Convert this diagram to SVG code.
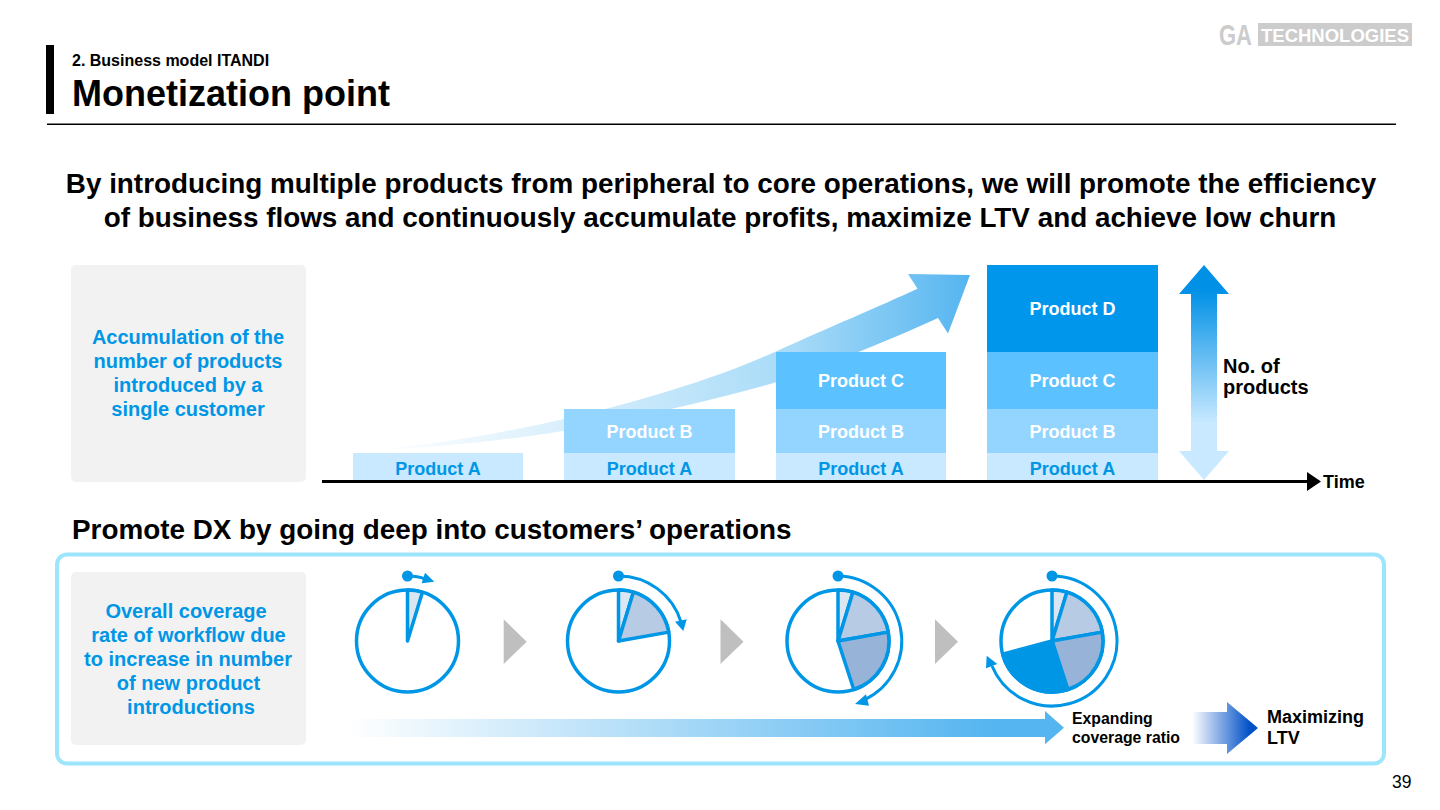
<svg xmlns="http://www.w3.org/2000/svg" width="1440" height="810" viewBox="0 0 1440 810">
<style>
text{font-family:"Liberation Sans",Arial,sans-serif;font-weight:700;fill:#000}
.c{text-anchor:middle}
.bl{fill:#0096e6;font-size:20px}
.pw{fill:#fff;font-size:18px;text-anchor:middle}
.pb{fill:#0096e6;font-size:18px;text-anchor:middle}
.ring{fill:#fff;stroke:#0096e6;stroke-width:3.5}
.sec{stroke:#0096e6;stroke-width:3.5;stroke-linejoin:round}
.s1{fill:#dbe6f3}.s2{fill:#b8cbe4}.s3{fill:#98b3d8}.s4{fill:#0096e6}
.arc{fill:none;stroke:#0096e6;stroke-width:3}
.blue{fill:#0096e6}
.tri{fill:#bfbfbf}
.panel{fill:#f2f2f2}
</style>
<defs>
<linearGradient id="gc" gradientUnits="userSpaceOnUse" x1="380" y1="0" x2="970" y2="0"><stop offset="0" stop-color="#fff"/><stop offset="0.7" stop-color="#a8dbf8"/><stop offset="1" stop-color="#55b5f0"/></linearGradient>
<linearGradient id="gb" gradientUnits="userSpaceOnUse" x1="347" y1="0" x2="1064" y2="0"><stop offset="0" stop-color="#fff"/><stop offset="0.9" stop-color="#55b5f0"/></linearGradient>
<linearGradient id="gv" gradientUnits="userSpaceOnUse" x1="0" y1="290" x2="0" y2="480"><stop offset="0" stop-color="#0090e6"/><stop offset="0.7" stop-color="#c8e9ff"/><stop offset="1" stop-color="#c8e9ff"/></linearGradient>
<linearGradient id="gl" gradientUnits="userSpaceOnUse" x1="1192" y1="0" x2="1250" y2="0"><stop offset="0" stop-color="#fff"/><stop offset="1" stop-color="#0050c8"/></linearGradient>
</defs>

<g id="header">
<rect x="46" y="45" width="8" height="69" fill="#000"/>
<text x="72" y="66" font-size="16">2. Business model ITANDI</text>
<text x="72" y="106" font-size="36">Monetization point</text>
<rect x="47" y="123.5" width="1349" height="1.5" fill="#000"/>
</g>
<g id="logo">
<text x="1219" y="45" font-size="30" textLength="33" lengthAdjust="spacingAndGlyphs" style="fill:#ccc">GA</text>
<rect x="1258" y="23" width="154" height="23" fill="#ccc"/>
<text x="1261" y="42" font-size="19" textLength="148" lengthAdjust="spacingAndGlyphs" style="fill:#fff">TECHNOLOGIES</text>
</g>
<g id="headline">
<text class="c" x="721" y="193" font-size="27.85">By introducing multiple products from peripheral to core operations, we will promote the efficiency</text>
<text class="c" x="720" y="227" font-size="27.85">of business flows and continuously accumulate profits, maximize LTV and achieve low churn</text>
</g>

<g id="panel-accumulation">
<rect class="panel" x="71" y="265" width="235" height="217" rx="5"/>
<text class="bl c" x="188" y="344">Accumulation of the</text>
<text class="bl c" x="188" y="368">number of products</text>
<text class="bl c" x="188" y="392">introduced by a</text>
<text class="bl c" x="188" y="416">single customer</text>
</g>

<g id="growth-arrow">
<path d="M375 450 C 520 436 680 395 777 351 C 830 327 880 306 917.500 288.700 L908 274 L970 275 L948 333.600 L938 318 C 910 331 880 343 856 353 C 800 379 730 395 666.500 410 C 600 428 480 446 375 450 Z" fill="url(#gc)"/>
</g>

<g id="col-1">
<rect x="353" y="453" width="170" height="28" fill="#c8e9ff"/><text class="pb" x="438" y="475">Product A</text>
</g>
<g id="col-2">
<rect x="564" y="453" width="171" height="28" fill="#c8e9ff"/><text class="pb" x="649.500" y="475">Product A</text>
<rect x="564" y="409" width="171" height="44" fill="#93d5ff"/><text class="pw" x="649.500" y="438">Product B</text>
</g>
<g id="col-3">
<rect x="776" y="453" width="170" height="28" fill="#c8e9ff"/><text class="pb" x="861" y="475">Product A</text>
<rect x="776" y="409" width="170" height="44" fill="#93d5ff"/><text class="pw" x="861" y="438">Product B</text>
<rect x="776" y="352" width="170" height="57" fill="#5bc2ff"/><text class="pw" x="861" y="387">Product C</text>
</g>
<g id="col-4">
<rect x="987" y="453" width="171" height="28" fill="#c8e9ff"/><text class="pb" x="1072.500" y="475">Product A</text>
<rect x="987" y="409" width="171" height="44" fill="#93d5ff"/><text class="pw" x="1072.500" y="438">Product B</text>
<rect x="987" y="352" width="171" height="57" fill="#5bc2ff"/><text class="pw" x="1072.500" y="387">Product C</text>
<rect x="987" y="265" width="171" height="87" fill="#0096ec"/><text class="pw" x="1072.500" y="315">Product D</text>
</g>

<g id="connectors">
<path d="M1204 265 L1229 294 H1217 V451 H1229 L1204 480 L1179 451 H1191 V294 H1179 Z" fill="url(#gv)"/>
<rect x="322" y="480" width="986" height="3" fill="#000"/>
<path d="M1307 472 L1321 481.500 L1307 491 Z" fill="#000"/>
</g>
<text id="no-of-products" font-size="20"><tspan x="1223" y="373">No. of</tspan><tspan x="1223" y="394">products</tspan></text>
<text id="time" x="1323" y="488" font-size="18">Time</text>

<text id="subheading" x="72" y="539" font-size="27.85">Promote DX by going deep into customers’ operations</text>

<g id="frame"><rect x="57" y="554.500" width="1327" height="209" rx="10" fill="none" stroke="#9de5fb" stroke-width="4"/></g>
<g id="panel-coverage">
<rect class="panel" x="71" y="572" width="235" height="173" rx="5"/>
<text class="bl c" x="186" y="618">Overall coverage</text>
<text class="bl c" x="188.500" y="642">rate of workflow due</text>
<text class="bl c" x="188" y="666">to increase in number</text>
<text class="bl c" x="188.500" y="690">of new product</text>
<text class="bl c" x="191" y="714">introductions</text>
</g>

<g id="pie-1">
<circle class="ring" cx="407.500" cy="641" r="51"/>
<path class="sec s1" d="M407.500 641 V590 A51 51 0 0 1 422.400 592.200 Z"/>
<path class="arc" d="M407.500 576 Q418 576 425 579"/>
<circle class="blue" cx="407.500" cy="576" r="5.500"/>
<path class="blue" d="M425 572.700 L434.300 581.700 L421.700 583.300 Z"/>
</g>
<g id="pie-2">
<circle class="ring" cx="618.500" cy="641" r="51"/>
<path class="sec s1" d="M618.500 641 V590 A51 51 0 0 1 633.400 592.200 Z"/>
<path class="sec s2" d="M618.500 641 L633.400 592.200 A51 51 0 0 1 668.700 632.100 Z"/>
<path class="arc" d="M618.500 576 A65 65 0 0 1 681 622"/>
<circle class="blue" cx="618.500" cy="576" r="5.500"/>
<path class="blue" d="M686.700 619.300 L675 621.700 L683.300 631 Z"/>
</g>
<g id="pie-3">
<circle class="ring" cx="838" cy="641" r="51"/>
<path class="sec s1" d="M838 641 V590 A51 51 0 0 1 852.900 592.200 Z"/>
<path class="sec s2" d="M838 641 L852.900 592.200 A51 51 0 0 1 888.200 632.100 Z"/>
<path class="sec s3" d="M838 641 L888.200 632.100 A51 51 0 0 1 853.800 689.500 Z"/>
<path class="arc" d="M838 576 A65 65 0 0 1 864 700"/>
<circle class="blue" cx="838" cy="576" r="5.500"/>
<path class="blue" d="M855 704 L866 694.300 L869 705.700 Z"/>
</g>
<g id="pie-4">
<circle class="ring" cx="1052" cy="641" r="51"/>
<path class="sec s1" d="M1052 641 V590 A51 51 0 0 1 1066.900 592.200 Z"/>
<path class="sec s2" d="M1052 641 L1066.900 592.200 A51 51 0 0 1 1102.200 632.100 Z"/>
<path class="sec s3" d="M1052 641 L1102.200 632.100 A51 51 0 0 1 1067.800 689.500 Z"/>
<path class="sec s4" d="M1052 641 L1067.800 689.500 A51 51 0 0 1 1002.700 654.200 Z"/>
<path class="arc" d="M1052 576 A65 65 0 1 1 992 666"/>
<circle class="blue" cx="1052" cy="576" r="5.500"/>
<path class="blue" d="M986.700 655.700 L997.300 664 L986 668.300 Z"/>
</g>

<g id="steps">
<path class="tri" d="M503.700 619.300 L526.700 641.700 L503.700 664 Z"/>
<path class="tri" d="M720.500 619.300 L743.500 641.700 L720.500 664 Z"/>
<path class="tri" d="M935 619.300 L958 641.700 L935 664 Z"/>
</g>

<g id="coverage-arrow">
<path d="M347 719 H1045 V711 L1064 727.700 L1045 744.300 V737 H347 Z" fill="url(#gb)"/>
</g>
<text id="expanding" font-size="15.800"><tspan x="1072" y="724">Expanding</tspan><tspan x="1072" y="743">coverage ratio</tspan></text>
<g id="ltv-arrow"><path d="M1192 712 H1227 V702 L1258 728 L1227 754 V744 H1192 Z" fill="url(#gl)"/></g>
<text id="maximizing" font-size="18"><tspan x="1267" y="723">Maximizing</tspan><tspan x="1267" y="744">LTV</tspan></text>
<text id="page" x="1392" y="788" font-size="17.500" style="font-weight:400">39</text>
</svg>
